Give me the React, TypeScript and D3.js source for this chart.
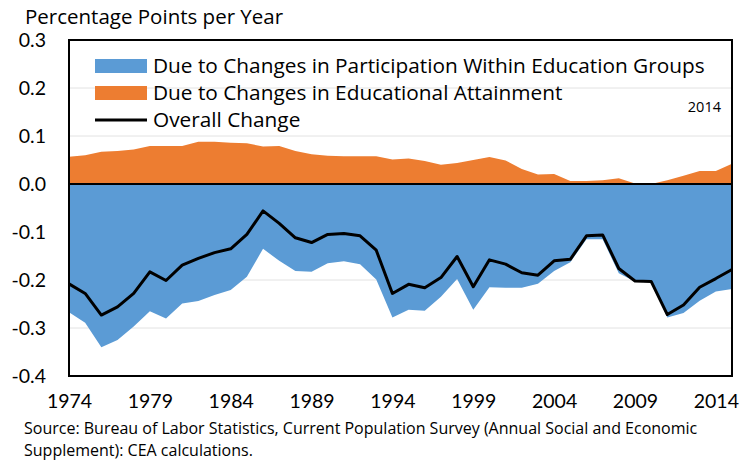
import React, { useEffect, useRef } from "react";
import * as d3 from "d3";

const years = [
  1974, 1975, 1976, 1977, 1978, 1979, 1980, 1981, 1982, 1983, 1984, 1985, 1986, 1987,
  1988, 1989, 1990, 1991, 1992, 1993, 1994, 1995, 1996, 1997, 1998, 1999, 2000, 2001,
  2002, 2003, 2004, 2005, 2006, 2007, 2008, 2009, 2010, 2011, 2012, 2013, 2014, 2015,
];

// due to changes in participation within education groups
const participation = [
  -0.267, -0.289, -0.34, -0.325, -0.297, -0.265, -0.28, -0.249, -0.244, -0.231, -0.221,
  -0.193, -0.135, -0.16, -0.181, -0.183, -0.165, -0.161, -0.167, -0.199, -0.278, -0.262,
  -0.264, -0.235, -0.198, -0.262, -0.215, -0.216, -0.216, -0.208, -0.181, -0.163, -0.115,
  -0.115, -0.186, -0.203, -0.203, -0.278, -0.269, -0.243, -0.224, -0.219,
];

// due to changes in educational attainment
const attainment = [
  0.057, 0.06, 0.067, 0.069, 0.072, 0.079, 0.079, 0.079, 0.088, 0.088, 0.086, 0.085,
  0.078, 0.079, 0.069, 0.062, 0.059, 0.058, 0.058, 0.058, 0.051, 0.053, 0.048, 0.04,
  0.044, 0.05, 0.056, 0.049, 0.031, 0.02, 0.021, 0.006, 0.006, 0.008, 0.012, 0.001, 0.0,
  0.008, 0.017, 0.027, 0.027, 0.042,
];

const overall = [
  -0.208, -0.228, -0.273, -0.256, -0.228, -0.183, -0.201, -0.169, -0.155, -0.143, -0.135,
  -0.105, -0.056, -0.082, -0.112, -0.122, -0.105, -0.103, -0.108, -0.138, -0.228, -0.209,
  -0.216, -0.195, -0.151, -0.214, -0.158, -0.167, -0.185, -0.19, -0.16, -0.157, -0.108,
  -0.106, -0.176, -0.202, -0.203, -0.272, -0.252, -0.215, -0.197, -0.178,
];

const xTickYears = [1974, 1979, 1984, 1989, 1994, 1999, 2004, 2009, 2014];
const yTicks = [-0.4, -0.3, -0.2, -0.1, 0.0, 0.1, 0.2, 0.3];

const legendItems = [
  { key: "part", text: "Due to Changes in Participation Within Education Groups" },
  { key: "att", text: "Due to Changes in Educational Attainment" },
  { key: "all", text: "Overall Change" },
];

const BLUE = "#5B9BD5";
const ORANGE = "#ED7D31";
const NUM_FONT = "Lato, 'Open Sans', sans-serif";
const TEXT_FONT = "'Open Sans', Lato, sans-serif";

const App = () => {
  const ref = useRef<SVGSVGElement>(null);

  useEffect(() => {
    const W = 741;
    const H = 461;
    const margin = { top: 40, right: 9, bottom: 85, left: 69 };

    const svg = d3.select(ref.current);
    svg.selectAll("*").remove();
    svg.attr("width", W).attr("height", H);

    const x = d3
      .scalePoint<number>()
      .domain(years)
      .range([margin.left, W - margin.right]);
    const y = d3
      .scaleLinear()
      .domain([-0.4, 0.3])
      .range([H - margin.bottom, margin.top]);

    const rows = years.map((yr, i) => ({
      yr,
      p: participation[i],
      a: attainment[i],
      o: overall[i],
    }));

    // gridlines
    svg
      .append("g")
      .selectAll("line")
      .data(yTicks)
      .enter()
      .append("line")
      .attr("x1", margin.left)
      .attr("x2", W - margin.right)
      .attr("y1", (d) => y(d))
      .attr("y2", (d) => y(d))
      .attr("stroke", "#e2e2e2")
      .attr("stroke-width", 1);

    const areaP = d3
      .area<any>()
      .x((d) => x(d.yr)!)
      .y0(y(0))
      .y1((d) => y(d.p));
    const areaA = d3
      .area<any>()
      .x((d) => x(d.yr)!)
      .y0(y(0))
      .y1((d) => y(d.a));

    svg.append("path").datum(rows).attr("d", areaP).attr("fill", BLUE);
    svg.append("path").datum(rows).attr("d", areaA).attr("fill", ORANGE);

    // zero line
    svg
      .append("line")
      .attr("x1", margin.left)
      .attr("x2", W - margin.right)
      .attr("y1", y(0))
      .attr("y2", y(0))
      .attr("stroke", "#000")
      .attr("stroke-width", 2);

    const line = d3
      .line<any>()
      .x((d) => x(d.yr)!)
      .y((d) => y(d.o));
    svg
      .append("path")
      .datum(rows)
      .attr("d", line)
      .attr("fill", "none")
      .attr("stroke", "#000")
      .attr("stroke-width", 3)
      .attr("stroke-linejoin", "round");

    // frame
    svg
      .append("rect")
      .attr("x", margin.left)
      .attr("y", margin.top)
      .attr("width", W - margin.right - margin.left)
      .attr("height", H - margin.bottom - margin.top)
      .attr("fill", "none")
      .attr("stroke", "#000")
      .attr("stroke-width", 2);

    // axes
    const xAxis = svg
      .append("g")
      .attr("transform", "translate(0," + (H - margin.bottom) + ")")
      .call(
        d3
          .axisBottom(x)
          .tickValues(xTickYears)
          .tickSize(0)
          .tickPadding(18)
          .tickFormat((d) => String(d))
      );
    xAxis.select(".domain").remove();
    xAxis
      .selectAll("text")
      .style("font-family", NUM_FONT)
      .style("font-size", "19.5px")
      .attr("fill", "#000");

    const yAxis = svg
      .append("g")
      .attr("transform", "translate(" + margin.left + ",0)")
      .call(
        d3
          .axisLeft(y)
          .tickValues(yTicks)
          .tickSize(0)
          .tickPadding(23)
          .tickFormat((d) => (+d).toFixed(1))
      );
    yAxis.select(".domain").remove();
    yAxis
      .selectAll("text")
      .style("font-family", NUM_FONT)
      .style("font-size", "19.5px")
      .attr("fill", "#000");

    // unit label
    svg
      .append("text")
      .attr("x", 25)
      .attr("y", 24)
      .style("font-family", TEXT_FONT)
      .style("font-size", "20.5px")
      .text("Percentage Points per Year");

    // legend
    const legend = svg.append("g").attr("transform", "translate(95,59)");
    legendItems.forEach((item, i) => {
      const yy = i * 27;
      if (item.key === "all") {
        legend
          .append("line")
          .attr("x1", 0)
          .attr("x2", 52)
          .attr("y1", yy + 7)
          .attr("y2", yy + 7)
          .attr("stroke", "#000")
          .attr("stroke-width", 3);
      } else {
        legend
          .append("rect")
          .attr("x", 0)
          .attr("y", yy)
          .attr("width", 52)
          .attr("height", 14)
          .attr("fill", item.key === "part" ? BLUE : ORANGE);
      }
      legend
        .append("text")
        .attr("x", 58)
        .attr("y", yy + 14)
        .style("font-family", TEXT_FONT)
        .style("font-size", "20.8px")
        .text(item.text);
    });

    svg
      .append("text")
      .attr("x", 721)
      .attr("y", 112)
      .attr("text-anchor", "end")
      .style("font-family", TEXT_FONT)
      .style("font-size", "14.5px")
      .text("2014");

    // source note
    const src = svg
      .append("text")
      .style("font-family", TEXT_FONT)
      .style("font-size", "16px");
    src
      .append("tspan")
      .attr("x", 24)
      .attr("y", 434)
      .text(
        "Source: Bureau of Labor Statistics, Current Population Survey (Annual Social and Economic"
      );
    src.append("tspan").attr("x", 24).attr("y", 456).text("Supplement): CEA calculations.");
  }, []);

  return (
    <div style={{ position: "absolute", left: 0, top: 0 }}>
      <svg ref={ref} style={{ display: "block" }}></svg>
    </div>
  );
};

export default App;
